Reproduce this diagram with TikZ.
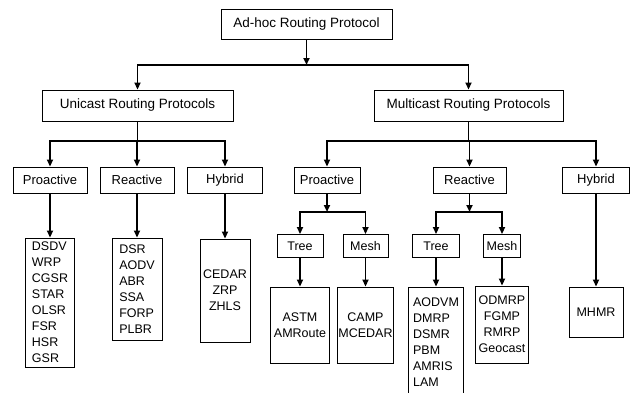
\documentclass[tikz,border=0pt]{standalone}
\usepackage{fontspec}
\setmainfont{Liberation Sans}
\usetikzlibrary{arrows.meta}
\tikzset{
  B/.style    = {draw, line width=0.9pt, inner sep=0pt, align=center,
                 font=\fontsize{13.5}{16}\selectfont},
  catB/.style = {B, minimum height=26pt, font=\fontsize{13}{16}\selectfont},
  subB/.style = {B, minimum height=23pt, font=\fontsize{12.5}{16}\selectfont},
  lstB/.style = {B, align=left, font=\fontsize{12.5}{16}\selectfont},
  cntB/.style = {B, align=center, font=\fontsize{12.5}{16}\selectfont},
  A/.style    = {-{Triangle[length=7pt,width=6pt]}, line width=1.8pt},
  L/.style    = {line width=1.8pt},
}

\begin{document}
\begin{tikzpicture}[x=1pt, y=-1pt]
\clip (0,0) rectangle (636,392);

%% ─── Root and the two families ──────────────────────────────
\node[B, minimum width=171pt, minimum height=30pt] (root) at (306.5,24)
  {Ad-hoc Routing Protocol};
\node[B, minimum width=191pt, minimum height=31pt] (uni) at (137.5,105.5)
  {Unicast Routing Protocols};
\node[B, minimum width=189pt, minimum height=31pt] (multi) at (468.5,105.5)
  {Multicast Routing Protocols};

\coordinate (jRoot) at (306.5,65);
\draw[A] (root.south) -- (jRoot);
\draw[A] (jRoot) -| (uni.north);
\draw[A] (jRoot) -| (multi.north);

%% ════════════════════════════════════════════════════════════
%%  LEFT: Unicast
%% ════════════════════════════════════════════════════════════
\node[catB, minimum width=74pt] (uPro) at (50,180)  {Proactive};
\node[catB, minimum width=74pt] (uRea) at (137,180) {Reactive};
\node[catB, minimum width=75pt] (uHyb) at (225,180) {Hybrid};

\coordinate (jUni) at (137.5,141);
\draw[L] (uni.south) -- (jUni);
\draw[A] (jUni) -| (uPro.north);
\draw[A] (jUni) -| (uRea.north);
\draw[A] (jUni) -| (uHyb.north);

\node[lstB, minimum width=49pt, minimum height=129pt] (uProL) at (50,302.5)
  {DSDV\\WRP\\CGSR\\STAR\\OLSR\\FSR\\HSR\\GSR};
\node[lstB, minimum width=50pt, minimum height=102pt] (uReaL) at (137,289)
  {DSR\\AODV\\ABR\\SSA\\FORP\\PLBR};
\node[cntB, minimum width=50pt, minimum height=103pt] (uHybL) at (225,290.5)
  {CEDAR\\ZRP\\ZHLS};

\draw[A] (uPro.south) -- (uProL.north);
\draw[A] (uRea.south) -- (uReaL.north);
\draw[A] (uHyb.south) -- (uHybL.north);

%% ════════════════════════════════════════════════════════════
%%  RIGHT: Multicast
%% ════════════════════════════════════════════════════════════
\node[catB, minimum width=66pt] (mPro) at (327,180)   {Proactive};
\node[catB, minimum width=73pt] (mRea) at (469.5,180) {Reactive};
\node[catB, minimum width=67pt] (mHyb) at (596,180)   {Hybrid};

\coordinate (jMul) at (468.5,141);
\draw[L] (multi.south) -- (jMul);
\draw[A] (jMul) -| (mPro.north);
\draw[A] (jMul) -| (mRea.north);
\draw[A] (jMul) -| (mHyb.north);

%% proactive: tree / mesh
\node[subB, minimum width=46pt] (pTree) at (300,246)   {Tree};
\node[subB, minimum width=45pt] (pMesh) at (365.5,246) {Mesh};
\coordinate (jPro) at (327,212);
\draw[A] (mPro.south) -- (jPro);
\draw[A] (jPro) -| (pTree.north);
\draw[A] (jPro) -| (pMesh.north);

\node[cntB, minimum width=59pt, minimum height=76pt] (pTreeL) at (300,325)
  {ASTM\\AMRoute};
\node[cntB, minimum width=56pt, minimum height=76pt] (pMeshL) at (365.5,325)
  {CAMP\\MCEDAR};
\draw[A] (pTree.south) -- (pTreeL.north);
\draw[A] (pMesh.south) -- (pMeshL.north);

%% reactive: tree / mesh
\node[subB, minimum width=47pt] (rTree) at (436,246) {Tree};
\node[subB, minimum width=37pt] (rMesh) at (502,246) {Mesh};
\coordinate (jRea) at (469.5,212);
\draw[A] (mRea.south) -- (jRea);
\draw[A] (jRea) -| (rTree.north);
\draw[A] (jRea) -| (rMesh.north);

\node[lstB, minimum width=55pt, minimum height=110pt] (rTreeL) at (436,342)
  {AODVM\\DMRP\\DSMR\\PBM\\AMRIS\\LAM};
\node[cntB, minimum width=53pt, minimum height=77pt] (rMeshL) at (502,324.5)
  {ODMRP\\FGMP\\RMRP\\Geocast};
\draw[A] (rTree.south) -- (rTreeL.north);
\draw[A] (rMesh.south) -- (rMeshL.north);

%% hybrid
\node[cntB, minimum width=54pt, minimum height=50pt] (mHybL) at (596,312) {MHMR};
\draw[A] (mHyb.south) -- (mHybL.north);

\end{tikzpicture}
\end{document}
